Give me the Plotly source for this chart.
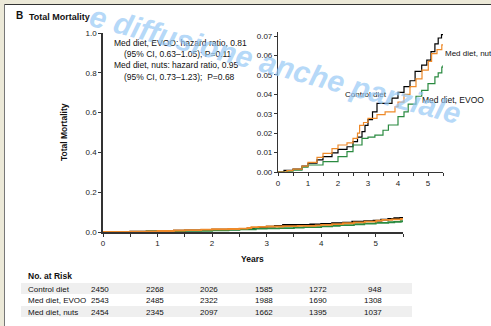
import plotly.graph_objects as go

# ---------------- data ----------------
control_t = [0, 0.2, 0.5, 0.8, 1.0, 1.3, 1.5, 1.8, 2.0, 2.3, 2.5, 2.65, 2.8, 2.9, 3.0, 3.15, 3.3, 3.62, 3.8, 4.0, 4.2, 4.4, 4.57, 4.79, 4.96, 5.1, 5.23, 5.34, 5.45, 5.5]
control_v = [0, 0.0008, 0.0015, 0.003, 0.0045, 0.0062, 0.0079, 0.0098, 0.0117, 0.013, 0.0156, 0.018, 0.0208, 0.024, 0.027, 0.031, 0.0353, 0.0353, 0.038, 0.041, 0.044, 0.047, 0.0518, 0.055, 0.0576, 0.062, 0.066, 0.069, 0.0707, 0.0707]

nuts_t = [0, 0.3, 0.5, 0.8, 1.0, 1.3, 1.5, 1.8, 2.0, 2.3, 2.5, 2.65, 2.72, 2.85, 3.0, 3.3, 3.57, 3.9, 4.0, 4.2, 4.4, 4.6, 4.8, 5.01, 5.12, 5.3, 5.46, 5.5]
nuts_v = [0, 0.0007, 0.0015, 0.003, 0.005, 0.0075, 0.0096, 0.012, 0.0139, 0.015, 0.0173, 0.02, 0.024, 0.0255, 0.0276, 0.0295, 0.031, 0.0336, 0.036, 0.040, 0.044, 0.048, 0.0525, 0.057, 0.061, 0.063, 0.0655, 0.0655]

evoo_t = [0, 0.3, 0.5, 0.8, 1.0, 1.5, 2.0, 2.3, 2.5, 2.8, 3.0, 3.23, 3.5, 3.68, 4.0, 4.2, 4.34, 4.6, 4.79, 5.0, 5.23, 5.34, 5.46, 5.5]
evoo_v = [0, 0.0005, 0.001, 0.0025, 0.0036, 0.0053, 0.0079, 0.0105, 0.0139, 0.0173, 0.018, 0.019, 0.0215, 0.0242, 0.0285, 0.031, 0.035, 0.039, 0.042, 0.0455, 0.049, 0.051, 0.054, 0.055]

risk_years = [0, 1, 2, 3, 4, 5]
risk_groups = ["Control diet", "Med diet, EVOO", "Med diet, nuts"]
risk_control = [2450, 2268, 2026, 1585, 1272, 948]
risk_evoo = [2543, 2485, 2322, 1988, 1690, 1308]
risk_nuts = [2454, 2345, 2097, 1662, 1395, 1037]

hr_lines = ["Med diet, EVOO: hazard ratio, 0.81", "(95% CI, 0.63\u20131.05); P=0.11",
            "Med diet, nuts: hazard ratio, 0.95", "(95% CI, 0.73\u20131.23);  P=0.68"]

# ---------------- layout geometry (pixels) ----------------
W, H = 491, 326
L, R, T, B = 103, 46, 32, 94
PW, PH = W - L - R, H - T - B


def px(x):
    return (x - L) / PW


def py(y):
    return (H - B - y) / PH


FONT = "Liberation Sans"
BLACK, ORANGE, GREEN = "#000000", "#EE8A2A", "#2A8A40"

fig = go.Figure()
series = [(control_t, control_v, BLACK), (evoo_t, evoo_v, GREEN), (nuts_t, nuts_v, ORANGE)]
for t, v, c in series:
    fig.add_trace(go.Scatter(x=t, y=v, mode="lines", line=dict(color=c, width=1.8, shape="hv"),
                             xaxis="x", yaxis="y", showlegend=False, hoverinfo="skip"))
for t, v, c in series:
    fig.add_trace(go.Scatter(x=t, y=v, mode="lines", line=dict(color=c, width=1.2, shape="hv"),
                             xaxis="x2", yaxis="y2", showlegend=False, hoverinfo="skip"))

axcommon = dict(showline=True, linecolor="#333333", ticks="outside", tickcolor="#333333",
                showgrid=False, zeroline=False, layer="below traces",
                tickfont=dict(family=FONT, size=8, color="#222"))

fig.update_layout(
    width=W, height=H, margin=dict(l=L, r=R, t=T, b=B),
    paper_bgcolor="white", plot_bgcolor="white", showlegend=False,
    xaxis=dict(domain=[0, 300 / PW], range=[0, 5.5], tickvals=risk_years, ticklen=3, linewidth=1.5,
               minor=dict(dtick=0.5, tick0=0, ticks="outside", ticklen=3, tickcolor="#333"),
               anchor="y", **axcommon),
    yaxis=dict(domain=[0, py(33)], range=[0, 1.0], dtick=0.2, tickformat=".1f", ticklen=3, linewidth=1.5,
               anchor="x", **axcommon),
    xaxis2=dict(domain=[px(278), px(443)], range=[0, 5.5], tickvals=risk_years, ticklen=3, linewidth=1.2,
                minor=dict(dtick=0.5, tick0=0, ticks="outside", ticklen=3, tickcolor="#333"),
                anchor="y2", **axcommon),
    yaxis2=dict(domain=[py(172), py(32)], range=[0, 0.0721], tickvals=[0, 0.01, 0.02, 0.03, 0.04, 0.05, 0.06, 0.07],
                tickformat=".2f", ticklen=3, linewidth=1.2, anchor="x2", **axcommon),
)

ann = []


def A(text, x, y, size=8, bold=False, xanchor="left", yanchor="middle", color="#111", **kw):
    if bold:
        text = "<b>" + text + "</b>"
    d = dict(text=text, x=x, y=y, xref="paper", yref="paper", showarrow=False,
             xanchor=xanchor, yanchor=yanchor, font=dict(family=FONT, size=size, color=color))
    d.update(kw)
    ann.append(d)


# title
A("B", px(14), py(16), size=10, bold=True)
A("Total Mortality", px(27), py(17), size=9, bold=True)
# y title
A("Total Mortality", px(64), py(132), size=8.5, bold=True, xanchor="center", textangle=-90)
# x title
A("Years", px(252), py(259), size=8.5, bold=True, xanchor="center")
# hazard ratio text
A(hr_lines[0], px(112), py(43), size=8.5)
A(hr_lines[1], px(122), py(54), size=8.5)
A(hr_lines[2], px(112), py(65), size=8.5)
A(hr_lines[3], px(122), py(77), size=8.5)
# inset labels
A(risk_groups[0], px(343), py(95), size=8)
A(risk_groups[2], px(443), py(53), size=8)
A(risk_groups[1], px(420), py(100), size=8.5)

# table
A("No. at Risk", px(26), py(276), size=8.5, bold=True)
row_y = [289, 300, 312]
for ry, name, vals in zip(row_y, risk_groups, [risk_control, risk_evoo, risk_nuts]):
    A(name, px(26), py(ry), size=8)
    for yr, val in zip(risk_years, vals):
        ann.append(dict(text=str(val), x=yr, y=py(ry), xref="x", yref="paper", showarrow=False,
                        xanchor="right", yanchor="middle", xshift=8,
                        font=dict(family=FONT, size=8, color="#111")))

# watermark
A("<i><b>e diffusione anche parziale</b></i>", px(275), py(64), size=30, xanchor="center",
  color="rgba(150,200,245,0.7)", textangle=15)

fig.update_layout(annotations=ann)

shapes = [
    dict(type="rect", xref="paper", yref="paper", x0=px(21), x1=px(412), y0=py(294), y1=py(283),
         fillcolor="#EFEFEF", line=dict(width=0), layer="below"),
    dict(type="rect", xref="paper", yref="paper", x0=px(21), x1=px(412), y0=py(317), y1=py(306),
         fillcolor="#EFEFEF", line=dict(width=0), layer="below"),
    # window frame
    dict(type="rect", xref="paper", yref="paper", x0=px(0), x1=px(4), y0=py(H), y1=py(0),
         fillcolor="#ECE9D8", line=dict(width=0)),
    dict(type="rect", xref="paper", yref="paper", x0=px(0), x1=px(W), y0=py(4), y1=py(0),
         fillcolor="#ECE9D8", line=dict(width=0)),
    dict(type="line", xref="paper", yref="paper", x0=px(4.5), x1=px(4.5), y0=py(H), y1=py(4.5),
         line=dict(color="#777", width=1)),
    dict(type="line", xref="paper", yref="paper", x0=px(4.5), x1=px(W), y0=py(4.5), y1=py(4.5),
         line=dict(color="#333", width=1)),
]
fig.update_layout(shapes=shapes)

fig.write_html("out.html", config={"displayModeBar": False},
               post_script="document.body.style.margin='0';document.body.style.overflow='hidden';")
